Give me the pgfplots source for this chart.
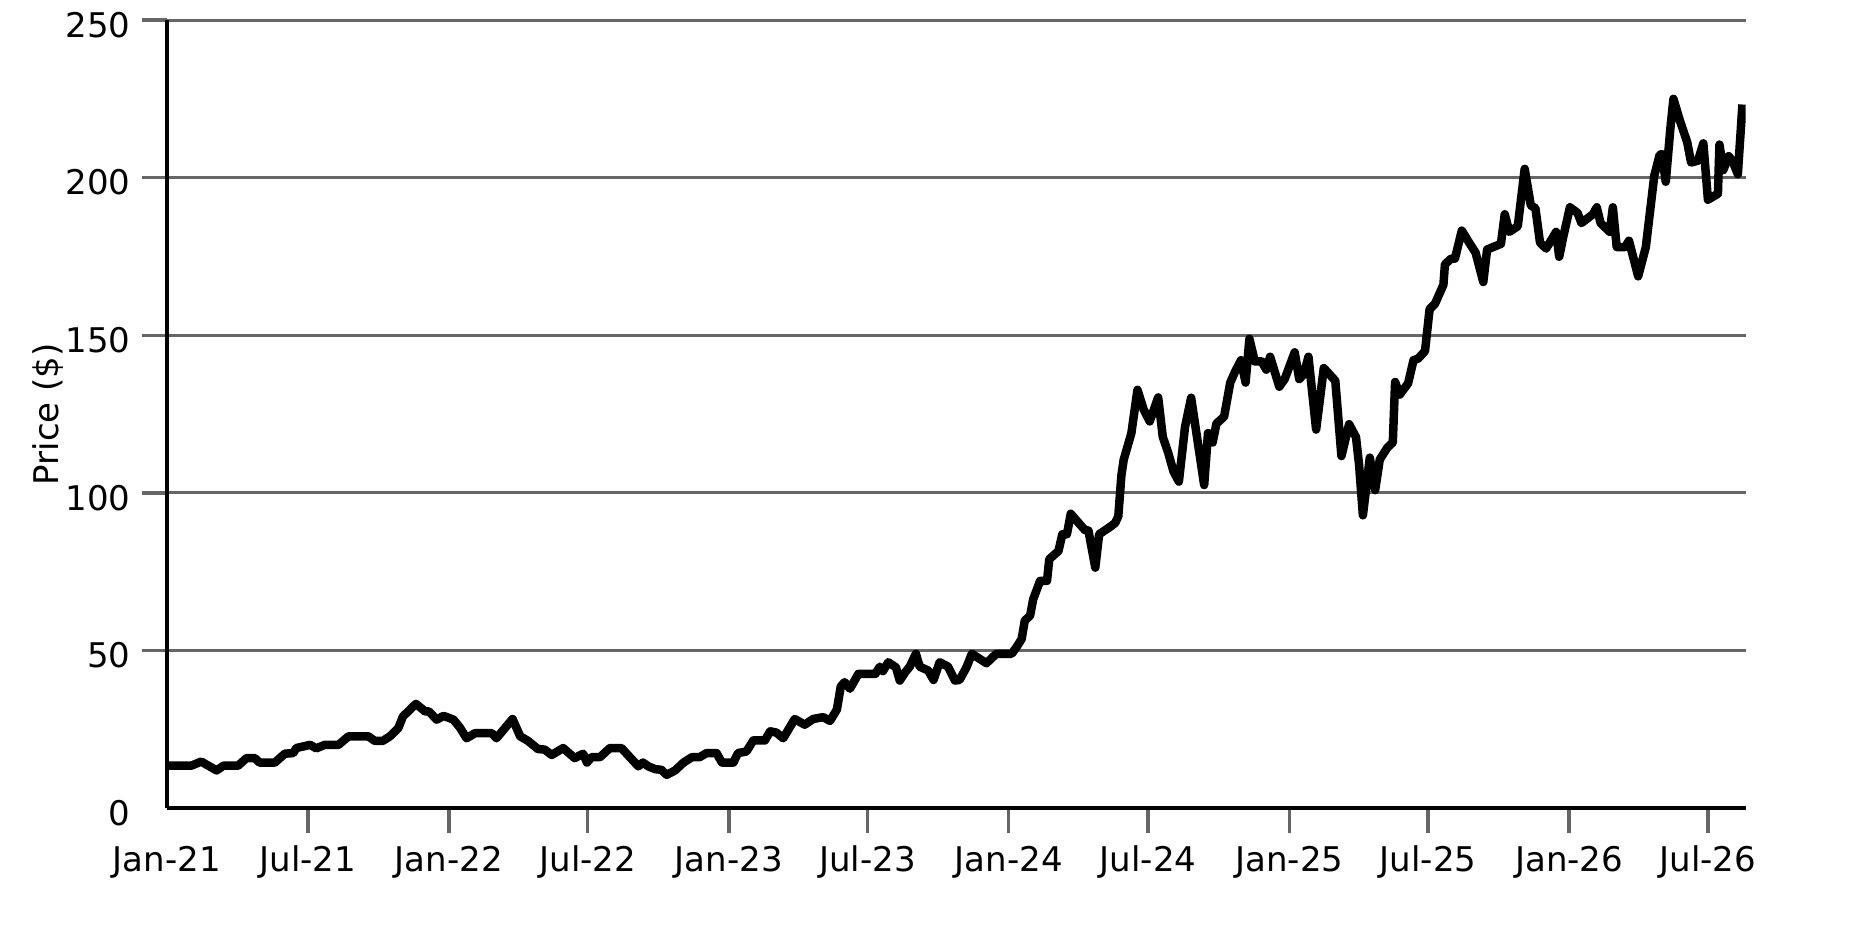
\documentclass[border=0pt]{standalone}
\usepackage{fontspec}
\setmainfont{DejaVu Sans}
\usepackage{pgfplots}
\usepackage{pgfplotstable}
\pgfplotsset{compat=1.18}
\definecolor{gridgray}{HTML}{666666}

% day = days since 1 Jan 2021, price in $
\pgfplotstableread{
day price
-3 13.5
29 13.5
42 14.8
62 12.0
71 13.5
90 13.5
101 15.9
112 15.9
118 14.5
138 14.5
151 17.3
162 17.5
166 19.1
184 20.1
192 19.0
203 20.1
221 20.1
234 22.8
260 22.8
268 21.4
279 21.4
288 22.8
299 25.4
305 29.1
322 33.1
334 30.7
339 30.7
349 28.1
358 29.3
371 28.1
379 25.7
388 22.2
399 23.8
421 23.8
427 22.2
448 28.3
458 22.8
468 21.4
481 18.8
490 18.6
499 16.9
514 19.1
529 15.9
540 17.3
545 14.5
551 16.2
562 16.2
575 19.1
590 19.1
601 16.2
612 13.3
618 14.5
625 13.3
634 12.4
642 12.2
649 10.6
660 12.0
671 14.5
682 16.2
692 16.2
701 17.5
714 17.5
721 14.5
736 14.5
742 17.5
753 18.0
762 21.5
777 21.5
784 24.4
792 24.0
801 22.2
816 28.3
829 26.5
840 28.3
853 28.9
862 27.7
871 31.3
876 38.6
881 40.0
888 37.9
899 42.6
921 42.6
927 44.9
931 43.5
938 46.3
948 44.7
953 40.5
960 43.1
966 44.9
974 49.0
979 44.9
990 43.7
997 40.7
1005 46.3
1016 44.9
1025 40.5
1031 40.7
1040 44.7
1047 49.0
1066 46.0
1079 49.0
1099 49.0
1105 51.0
1112 53.7
1116 59.5
1123 61.1
1127 66.3
1136 72.1
1145 72.1
1148 79.0
1160 81.6
1165 86.9
1171 86.9
1176 93.4
1188 90.0
1195 88.1
1199 88.1
1208 76.3
1213 86.9
1227 89.2
1234 90.5
1238 92.6
1242 105.5
1245 110.5
1255 118.9
1263 132.7
1271 126.5
1279 122.7
1290 130.3
1296 117.8
1303 112.8
1310 106.8
1317 103.6
1325 120.9
1333 130.2
1342 115.5
1350 102.5
1355 119.0
1361 116.0
1366 122.0
1376 124.2
1384 135.0
1390 138.3
1398 142.1
1404 135.0
1409 148.9
1416 141.7
1425 141.7
1431 139.1
1436 143.2
1448 133.7
1455 136.1
1468 144.6
1474 136.1
1480 137.7
1486 143.2
1496 120.1
1506 139.6
1521 135.6
1529 111.7
1539 121.8
1548 117.7
1552 109.0
1557 92.9
1566 111.2
1573 100.9
1579 110.6
1589 114.4
1596 116.0
1599 135.2
1605 131.2
1616 134.8
1623 142.1
1629 142.6
1638 145.0
1644 158.3
1651 160.0
1662 166.0
1664 172.5
1672 174.3
1677 174.3
1686 183.2
1694 180.0
1704 176.2
1714 166.9
1719 177.2
1737 179.0
1742 188.4
1748 182.8
1759 184.6
1768 202.8
1776 191.2
1782 190.3
1788 179.4
1796 177.5
1809 182.8
1813 174.9
1818 180.9
1827 190.6
1837 188.8
1842 185.6
1857 188.4
1862 190.6
1867 185.6
1879 182.8
1883 190.6
1888 178.0
1899 178.0
1904 180.0
1916 168.7
1926 178.0
1937 200.6
1944 207.2
1947 207.5
1952 198.7
1958 215.6
1962 225.0
1970 218.4
1980 211.2
1985 204.8
1994 205.4
2001 210.9
2007 193.0
2020 194.9
2022 210.5
2027 202.4
2034 206.8
2039 205.3
2046 201.1
2052 223.2
}\pricedata

\begin{document}
\fontsize{13.6bp}{16bp}\selectfont
\begin{tikzpicture}
\useasboundingbox (-66.7bp,-51.9bp) rectangle (683.3bp,323.3bp);
\begin{axis}[
  scale only axis,
  width=631.5bp, height=315.3bp,
  xmin=-3, xmax=2056,
  ymin=0, ymax=250,
  axis lines*=left,
  axis line style={black, line width=1.6bp},
  tick align=outside,
  major tick length=9.8bp,
  tick style={gridgray, line width=1.4bp},
  xtick={181,365,546,730,911,1095,1277,1461,1642,1826,2007},
  xticklabels={Jul-21,Jan-22,Jul-22,Jan-23,Jul-23,Jan-24,Jul-24,Jan-25,Jul-25,Jan-26,Jul-26},
  ytick={50,100,150,200,250},
  extra x ticks={-3},
  extra x tick labels={Jan-21},
  extra y ticks={0},
  extra tick style={grid=none, major tick style={draw=none}},
  ymajorgrids=true,
  major grid style={gridgray, line width=1.2bp},
  /pgf/number format/assume math mode=true,
  scaled ticks=false,
  ylabel={Price (\$)},
  every axis y label/.style={at={(axis description cs:-0.0749,0.5)}, rotate=90, anchor=center},
  yticklabel style={anchor=east, yshift=-1.9bp},
  xticklabel style={anchor=north, yshift=-0.6bp},
]
\addplot[black, line width=3.4bp, line join=round, mark=none] table[x=day, y=price] {\pricedata};
\end{axis}
\end{tikzpicture}
\end{document}
